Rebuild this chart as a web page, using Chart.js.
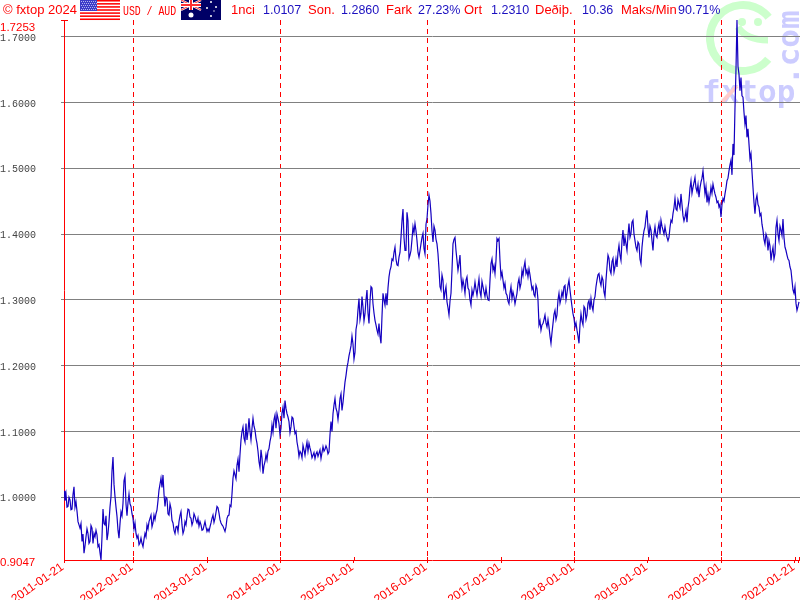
<!DOCTYPE html>
<html>
<head>
<meta charset="utf-8">
<title>USD / AUD</title>
<script src="https://cdn.jsdelivr.net/npm/chart.js@4/dist/chart.umd.min.js"></script>
<style>
  html, body { margin: 0; padding: 0; background: #fff; }
  canvas { display: block; }
</style>
</head>
<body>
<canvas id="fxChart" width="800" height="600"></canvas>
<script>
// dates on the x axis
const START_DATE = '2011-01-21';
const END_DATE = '2021-01-21';
const tickDates = ['2011-01-21', '2012-01-01', '2013-01-01', '2014-01-01', '2015-01-01', '2016-01-01',
  '2017-01-01', '2018-01-01', '2019-01-01', '2020-01-01', '2021-01-01', END_DATE];
const dashedYears = ['2012', '2014', '2016', '2018', '2020'];

const yMin = 0.9047;
const yMax = 1.7253;
const yTicks = [1.0, 1.1, 1.2, 1.3, 1.4, 1.5, 1.6, 1.7];

// one reading every SAMPLE_DAYS
const SAMPLE_DAYS = 4.97;
const rates = [
  1.010,.995,1.005,.985,.986,1.000,.996,.981,.982,1.004,1.016,.985,.993,.979,.963,.958,.953,.960,.933,.944,.915,.926,.940,.952,.945,.930,.933,.957,.953,.930,.945,
  .940,.950,.943,.925,.928,.916,.9047,.940,.982,.960,.958,.972,.935,.945,.963,.985,1.001,1.040,1.061,1.020,1.001,.985,.971,.950,.938,.960,.978,.972,.991,1.025,1.032,
  .990,.972,.992,1.005,.990,.986,.975,.968,.952,.961,.945,.938,.942,.928,.931,.938,.930,.925,.936,.945,.940,.958,.952,.963,.968,.973,.955,.961,.973,.966,.975,.981,
  .995,1.011,1.020,1.029,1.015,1.034,1.005,.986,1.000,.998,.975,.973,.990,.983,.965,.961,.950,.945,.955,.956,.948,.963,.972,.978,.958,.945,.950,.963,.958,.971,.982,.981,
  .970,.968,.958,.963,.975,.971,.965,.961,.968,.956,.963,.958,.950,.951,.957,.963,.955,.948,.952,.948,.955,.961,.968,.973,.962,.968,.977,.986,.984,.976,.966,.961,
  .958,.956,.952,.948,.955,.968,.972,.973,.988,.986,1.005,1.029,1.040,1.034,1.028,1.049,1.058,1.039,1.065,1.087,1.100,1.107,1.090,1.084,1.112,1.087,1.100,1.120,1.100,1.087,1.105,1.120,
  1.108,1.102,1.090,1.082,1.070,1.054,1.045,1.072,1.060,1.036,1.048,1.054,1.065,1.057,1.070,1.074,1.085,1.092,1.110,1.099,1.118,1.125,1.105,1.127,1.120,1.112,1.095,1.105,1.128,1.137,1.120,1.147,
  1.135,1.127,1.122,1.115,1.098,1.107,1.122,1.120,1.108,1.097,1.100,1.084,1.075,1.062,1.070,1.067,1.060,1.079,1.072,1.064,1.075,1.084,1.070,1.082,1.075,1.069,1.060,1.064,1.068,1.059,1.066,1.069,
  1.062,1.067,1.072,1.059,1.068,1.077,1.070,1.073,1.078,1.074,1.066,1.069,1.095,1.115,1.100,1.127,1.140,1.150,1.135,1.130,
  1.118,1.132,1.150,1.157,1.132,1.144,1.160,1.175,1.185,1.197,1.205,1.215,1.222,1.230,1.245,1.233,1.210,1.220,
  1.255,1.264,1.285,1.302,1.270,1.279,1.305,1.289,1.268,1.279,1.300,1.315,1.280,1.264,1.298,1.320,1.318,1.294,1.280,1.269,1.262,1.254,1.248,1.264,1.245,1.234,1.275,1.310,1.300,1.292,1.310,1.292,
  1.318,1.335,1.345,1.350,1.362,1.360,1.372,1.380,1.362,1.353,1.352,1.365,1.372,1.395,1.420,1.438,1.395,1.375,1.375,1.433,1.420,1.363,1.368,1.375,1.392,1.411,1.402,1.416,1.405,1.390,1.372,1.365,
  1.375,1.385,1.395,1.401,1.378,1.370,1.415,1.423,1.445,1.459,1.450,1.431,1.405,1.388,1.412,1.406,1.392,1.385,1.370,1.347,1.320,1.315,1.338,1.330,1.300,1.312,1.320,1.297,1.288,1.277,1.298,1.310,
  1.345,1.385,1.392,1.395,1.375,1.360,1.345,1.355,1.368,1.335,1.318,1.330,1.322,1.310,1.330,1.335,1.318,1.315,1.300,1.292,1.315,1.307,1.315,1.327,1.316,1.307,1.320,1.332,1.312,1.305,1.328,1.320,
  1.312,1.305,1.318,1.307,1.300,1.299,1.330,1.355,1.362,1.345,1.352,1.340,1.360,1.393,1.390,1.393,1.360,1.335,1.342,1.330,1.318,1.325,1.310,1.307,1.298,1.294,1.310,1.320,1.302,1.312,1.305,1.294,
  1.302,1.310,1.325,1.332,1.318,1.325,1.345,1.337,1.350,1.358,1.340,1.345,1.335,1.347,1.338,1.327,1.316,1.320,1.308,1.305,1.322,1.317,1.300,1.262,1.268,1.254,1.262,1.264,1.270,1.277,1.265,1.259,
  1.270,1.259,1.245,1.234,1.250,1.264,1.278,1.284,1.270,1.277,1.300,1.310,1.295,1.302,1.312,1.305,1.320,1.322,1.300,1.310,1.322,1.330,1.315,1.302,1.290,1.279,1.272,1.259,1.265,1.254,1.245,1.234,
  1.262,1.279,1.268,1.262,1.290,1.287,1.270,1.277,1.295,1.299,1.285,1.302,1.290,1.284,1.300,1.305,1.320,1.330,
  1.338,1.340,1.328,1.322,1.335,1.330,1.312,1.305,1.330,1.350,1.368,1.363,1.345,1.340,1.358,1.363,1.342,1.350,1.362,1.350,1.372,1.383,1.368,1.360,1.390,1.406,1.382,1.395,1.385,1.375,1.398,1.416,
  1.395,1.401,1.418,1.421,1.400,1.390,1.380,1.375,1.388,1.385,1.362,1.355,1.380,1.395,1.405,1.411,1.425,1.436,1.410,1.395,1.412,1.406,1.390,1.375,1.400,1.411,1.398,1.395,1.408,1.416,1.400,1.421,
  1.412,1.406,1.400,1.411,1.402,1.395,1.390,1.395,1.410,1.421,1.418,1.431,1.440,1.454,1.438,1.436,1.452,1.446,1.440,1.461,1.445,1.428,1.420,1.426,1.435,1.418,1.440,1.451,1.470,1.481,1.462,1.471,
  1.478,1.486,1.470,1.464,1.475,1.456,1.470,1.479,1.485,1.496,1.478,1.461,1.472,1.448,1.460,1.448,1.458,1.471,1.462,1.476,1.468,1.461,1.456,1.448,1.450,1.441,1.445,1.426,1.445,1.454,1.450,1.461,
  1.470,1.481,1.485,1.496,1.505,1.512,1.490,1.537,1.520,1.592,1.650,1.7253,1.655,1.643,1.618,1.638,1.610,1.608,1.585,1.567,1.580,1.547,1.560,1.537,1.515,1.522,1.495,1.471,1.448,1.431,1.452,1.459,1.445,1.441,
  1.428,1.431,1.415,1.406,1.392,1.385,1.400,1.395,1.375,1.390,1.382,1.360,1.372,1.380,1.362,1.370,1.410,1.421,1.400,1.390,1.412,1.406,1.398,1.423,1.395,1.380,1.375,1.368,1.362,1.360,1.350,1.345,
  1.330,1.315,1.310,1.320,1.295,1.284,1.290,1.297
];

// header strip: text, left edge, colour
const RED = '#ff0000';
const BLUE = '#1c10c0';
const headerTexts = [
  ['© fxtop 2024', 3, RED], ['1nci', 231, RED], ['1.0107', 263, BLUE], ['Son.', 308, RED], ['1.2860', 341, BLUE],
  ['Fark', 386, RED], ['27.23%', 418, BLUE], ['Ort', 464, RED], ['1.2310', 491, BLUE], ['Deðiþ.', 535, RED],
  ['10.36', 582, BLUE], ['Maks/Min', 621, RED], ['90.71%', 678, BLUE]
];

const dayOf = d => (Date.parse(d) - Date.parse(START_DATE)) / 86400000;
const dateOfDay = v => new Date(Date.parse(START_DATE) + v * 86400000).toISOString().slice(0, 10);

function drawUsFlag(ctx, x, y) {
  ctx.fillStyle = '#fff';
  ctx.fillRect(x, y, 40, 20);
  ctx.fillStyle = '#ff0000';
  for (let i = 0; i < 7; i++) ctx.fillRect(x, y + i * 3.08, 40, 1.54);
  ctx.fillStyle = '#3c3cc8';
  ctx.fillRect(x, y, 17, 11);
  ctx.fillStyle = '#b4b4f0';
  for (let r = 0; r < 5; r++) {
    for (let c = 0; c < 8; c++) ctx.fillRect(x + 1 + c * 2 + (r % 2), y + 1 + r * 2, 1, 1);
  }
}

function drawAusFlag(ctx, x, y) {
  ctx.fillStyle = '#000066';
  ctx.fillRect(x, y, 40, 20);
  ctx.strokeStyle = '#fff';
  ctx.lineWidth = 2;
  ctx.beginPath();
  ctx.moveTo(x, y); ctx.lineTo(x + 20, y + 10);
  ctx.moveTo(x + 20, y); ctx.lineTo(x, y + 10);
  ctx.stroke();
  ctx.strokeStyle = '#ff3030';
  ctx.lineWidth = 1;
  ctx.beginPath();
  ctx.moveTo(x, y); ctx.lineTo(x + 20, y + 10);
  ctx.moveTo(x + 20, y); ctx.lineTo(x, y + 10);
  ctx.stroke();
  ctx.fillStyle = '#fff';
  ctx.fillRect(x + 8, y, 4, 10);
  ctx.fillRect(x, y + 3, 20, 4);
  ctx.fillStyle = '#ff3030';
  ctx.fillRect(x + 9, y, 2, 10);
  ctx.fillRect(x, y + 4, 20, 2);
  ctx.fillStyle = '#fff';
  [[10, 15, 2.5], [30, 2, 1], [35, 7, 1], [26, 8, 1], [30, 16, 1], [33, 11, .7]].forEach(s => {
    ctx.beginPath();
    ctx.arc(x + s[0], y + s[1], s[2], 0, Math.PI * 2);
    ctx.fill();
  });
}

// logo behind everything, gridlines and line go on top of it
const watermark = {
  id: 'watermark',
  beforeDraw(chart) {
    const ctx = chart.ctx;
    ctx.save();
    ctx.strokeStyle = '#ccffcc';
    ctx.fillStyle = '#ccffcc';
    ctx.lineWidth = 8;
    ctx.beginPath();
    ctx.arc(743, 38, 33, 0.7, 5.6);
    ctx.stroke();
    ctx.lineWidth = 7;
    ctx.beginPath();
    ctx.moveTo(738, 27);
    ctx.quadraticCurveTo(746, 40, 768, 40);
    ctx.stroke();
    [[742, 22], [758, 22]].forEach(p => {
      ctx.beginPath();
      ctx.arc(p[0], p[1], 4, 0, Math.PI * 2);
      ctx.fill();
    });
    ctx.fillStyle = '#ccccff';
    ctx.font = 'bold 31px "DejaVu Sans Mono"';
    ctx.textAlign = 'left';
    ctx.textBaseline = 'alphabetic';
    ctx.fillText('fxtop', 702, 102);
    ctx.save();
    ctx.translate(799, 85);
    ctx.rotate(-Math.PI / 2);
    ctx.fillText('.com', 0, 0);
    ctx.restore();
    ctx.strokeStyle = '#ffcccc';
    ctx.lineWidth = 4;
    ctx.beginPath();
    ctx.moveTo(722, 102);
    ctx.lineTo(737, 86);
    ctx.stroke();
    ctx.restore();
  }
};

const overlays = {
  id: 'overlays',
  afterDraw(chart) {
    const ctx = chart.ctx;
    const { x: xs, y: ys } = chart.scales;
    ctx.save();
    ctx.textAlign = 'left';
    ctx.textBaseline = 'alphabetic';
    headerTexts.forEach(t => {
      ctx.font = (t[2] === RED ? '13px' : '12.5px') + ' "Liberation Sans"';
      ctx.fillStyle = t[2];
      ctx.fillText(t[0], t[1], 14);
    });
    ctx.fillStyle = RED;
    ctx.save();
    ctx.font = '12px "Liberation Mono"';
    ctx.translate(123, 15);
    ctx.scale(0.82, 1);
    ctx.fillText('USD / AUD', 0, 0);
    ctx.restore();
    drawUsFlag(ctx, 80, 0);
    drawAusFlag(ctx, 181, 0);

    // min and max labels sit off their ticks
    ctx.font = '11.5px "Liberation Sans"';
    ctx.fillStyle = RED;
    ctx.fillText(yMax.toFixed(4), 0, ys.getPixelForValue(yMax) + 11);
    ctx.fillText(yMin.toFixed(4), 0, ys.getPixelForValue(yMin) + 6);

    // short inner part of the year ticks
    ctx.strokeStyle = RED;
    ctx.lineWidth = 1;
    ctx.beginPath();
    xs.ticks.forEach(t => {
      const px = Math.round(xs.getPixelForValue(t.value)) + 0.5;
      ctx.moveTo(px, chart.chartArea.bottom - 3);
      ctx.lineTo(px, chart.chartArea.bottom);
    });
    const top = Math.round(ys.getPixelForValue(yMax)) + 0.5;
    ctx.moveTo(61, top);
    ctx.lineTo(68, top);
    ctx.stroke();
    ctx.restore();
  }
};

const isDashed = v => dashedYears.includes(dateOfDay(v).slice(0, 4)) && dateOfDay(v).endsWith('-01-01');

new Chart(document.getElementById('fxChart'), {
  type: 'line',
  data: {
    datasets: [{
      data: rates.map((r, i) => ({ x: i * SAMPLE_DAYS, y: r })),
      borderColor: '#1400c0',
      borderWidth: 1.2,
      pointRadius: 0,
      tension: 0,
      fill: false
    }]
  },
  options: {
    responsive: false,
    animation: false,
    layout: { padding: { top: 20 } },
    plugins: { legend: { display: false }, tooltip: { enabled: false } },
    scales: {
      x: {
        type: 'linear',
        min: 0,
        max: 3658,
        afterBuildTicks: s => { s.ticks = tickDates.map(d => ({ value: dayOf(d) })); },
        afterFit: s => { s.height = 40; s.paddingLeft = 0; s.paddingRight = 0; },
        border: { color: RED, width: 1, dash: [5, 4] },
        grid: {
          color: c => (c.tick && isDashed(c.tick.value) ? RED : 'rgba(0,0,0,0)'),
          tickColor: RED,
          tickLength: 3,
          tickBorderDash: []
        },
        ticks: {
          autoSkip: false,
          minRotation: 35,
          maxRotation: 35,
          padding: -3,
          labelOffset: -1.5,
          color: RED,
          font: { family: '"Liberation Sans"', size: 12 },
          // the last label hangs on the 2021-01-01 tick, the end tick has none
          callback: (v, i) => (i === tickDates.length - 1 ? '' : i === tickDates.length - 2 ? END_DATE : tickDates[i])
        }
      },
      y: {
        min: yMin,
        max: yMax,
        afterBuildTicks: s => { s.ticks = yTicks.map(v => ({ value: v })); },
        afterFit: s => { s.width = 64; s.paddingTop = 0; s.paddingBottom = 0; },
        border: { color: RED, width: 1 },
        grid: { color: '#808080', tickColor: '#808080', tickLength: 3 },
        ticks: {
          crossAlign: 'far',
          labelOffset: 1.5,
          color: '#444',
          font: { family: '"Liberation Mono"', size: 10 },
          callback: v => v.toFixed(4)
        }
      }
    }
  },
  plugins: [watermark, overlays]
});
</script>
</body>
</html>
